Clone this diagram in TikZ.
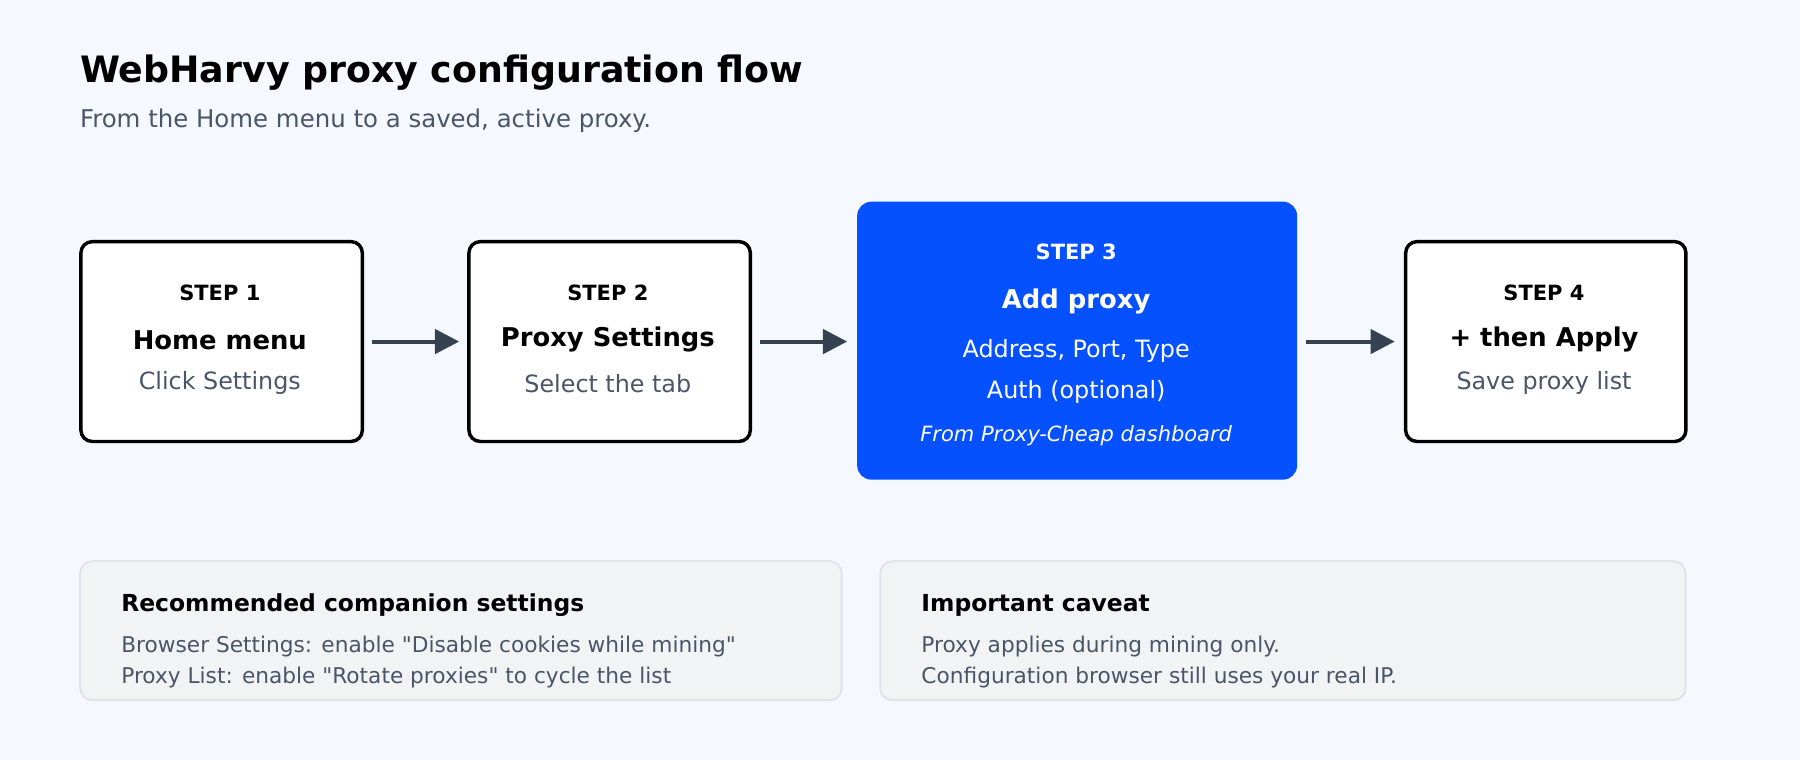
\documentclass[tikz,border=0pt]{standalone}
\usepackage{fontspec}
\setmainfont{DejaVu Sans}[Ligatures=TeXOff]
\usetikzlibrary{arrows.meta}
\definecolor{bg}{HTML}{F5F8FE}
\definecolor{blue}{HTML}{0651FF}
\definecolor{arr}{HTML}{364152}
\definecolor{gray}{HTML}{4A5568}
\definecolor{card}{HTML}{F2F3F5}
\definecolor{cardb}{HTML}{E1E4EA}
\newcommand{\fs}[1]{\fontsize{#1}{#1}\selectfont}
\tikzset{
 stepbox/.style={draw=black,line width=0.85pt,fill=white,rounded corners=2.8pt,inner sep=0pt},
 card/.style={draw=cardb,line width=0.5pt,fill=card,rounded corners=3pt,inner sep=0pt},
 con/.style={draw=arr,line width=1pt,-{Triangle[length=6pt,width=6pt]}},
 lab/.style={font=\bfseries\fs{5.2}},
 ttl/.style={font=\bfseries\fs{6.4}},
 sub/.style={font=\fs{5.9},text=gray},
 tx/.style={anchor=base west,inner sep=0pt},
}
\begin{document}
\begin{tikzpicture}[x=0.01cm,y=-0.01cm]
\useasboundingbox[fill=bg] (0,0) rectangle (1568,662);
\node[tx,font=\bfseries\fs{9.0}] (t) at (69,72) {WebHarvy proxy configuration flow};
\node[tx,font=\fs{6.05},text=gray] (st) at (69,111) {From the Home menu to a saved, active proxy.};
\node[stepbox,minimum width=2.45cm,minimum height=1.74cm,anchor=north west] (b1) at (69,209) {};
\node[stepbox,minimum width=2.45cm,minimum height=1.74cm,anchor=north west] (b2) at (407,209) {};
\node[fill=blue,rounded corners=3.5pt,inner sep=0pt,minimum width=3.83cm,minimum height=2.42cm,anchor=north west] (b3) at (746,175) {};
\node[stepbox,minimum width=2.44cm,minimum height=1.74cm,anchor=north west] (b4) at (1223,209) {};
\foreach \n/\x/\a/\b in {1/191.5/Home menu/Click Settings,2/529.5/Proxy Settings/Select the tab,4/1345/+ then Apply/Save proxy list}{
 \node[lab] at (\x,255) {STEP \n};
 \node[ttl] at (\x,296) {\a};
 \node[sub] at (\x,334) {\b};
}
\node[lab,text=white] at (937.5,219) {STEP 3};
\node[ttl,text=white] at (937.5,263) {Add proxy};
\node[font=\fs{5.9},text=white] at (937.5,306) {Address, Port, Type};
\node[font=\fs{5.9},text=white] at (937.5,341) {Auth (optional)};
\node[font=\itshape\fs{5.2},text=white] at (937.5,380) {From Proxy-Cheap dashboard};
\draw[con] ([xshift=0.07cm]b1.east) -- ([xshift=-0.07cm]b2.west |- b1.east);
\draw[con] ([xshift=0.07cm]b2.east) -- ([xshift=-0.08cm]b3.west |- b2.east);
\draw[con] ([xshift=0.07cm]b3.east |- b4.west) -- ([xshift=-0.08cm]b4.west);
\node[card,minimum width=6.63cm,minimum height=1.21cm,anchor=north west] (c1) at (69,488) {};
\node[card,minimum width=7.01cm,minimum height=1.21cm,anchor=north west] (c2) at (766,488) {};
\node[tx,font=\bfseries\fs{5.8}] at (105,533) {Recommended companion settings};
\node[tx,font=\fs{5.37},text=gray] at (105,568) {Browser Settings: enable "Disable cookies while mining"};
\node[tx,font=\fs{5.37},text=gray] at (105,595) {Proxy List: enable "Rotate proxies" to cycle the list};
\node[tx,font=\bfseries\fs{5.8}] at (802,533) {Important caveat};
\node[tx,font=\fs{5.37},text=gray] at (802,568) {Proxy applies during mining only.};
\node[tx,font=\fs{5.37},text=gray] at (802,595) {Configuration browser still uses your real IP.};
\end{tikzpicture}
\end{document}
